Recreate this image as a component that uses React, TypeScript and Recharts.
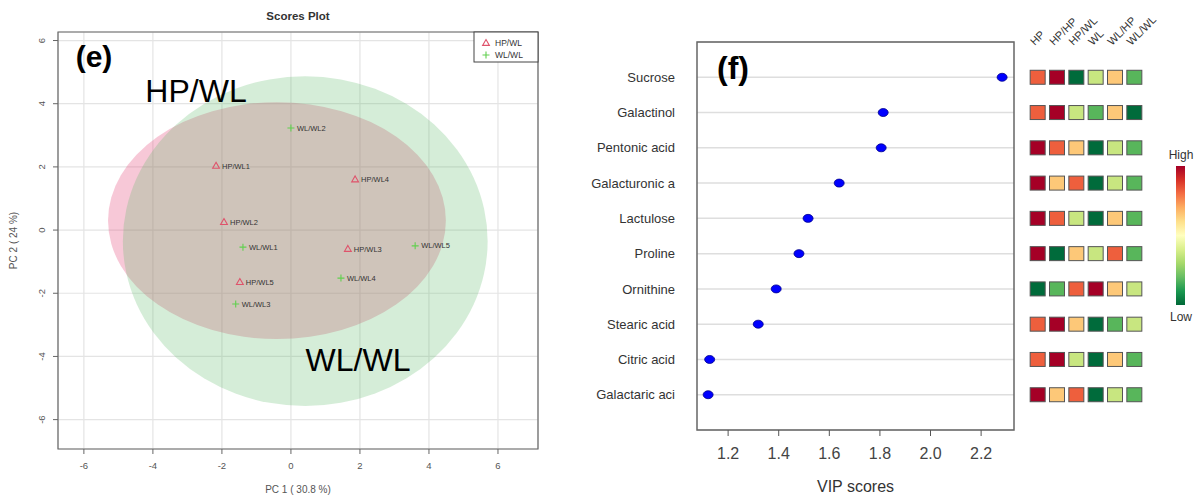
import React from 'react'
import { ScatterChart, Scatter, XAxis, YAxis, CartesianGrid, ReferenceArea } from 'recharts'

const FONT = '"Liberation Sans", Arial, Helvetica, sans-serif'

// ---- (e) PCA scores
const hpwlNames = ['HP/WL1', 'HP/WL2', 'HP/WL3', 'HP/WL4', 'HP/WL5']
const hpwlPC1 = [-2.17, -1.94, 1.65, 1.86, -1.48]
const hpwlPC2 = [2.03, 0.25, -0.6, 1.6, -1.65]

const wlwlNames = ['WL/WL1', 'WL/WL2', 'WL/WL3', 'WL/WL4', 'WL/WL5']
const wlwlPC1 = [-1.39, 0.0, -1.6, 1.45, 3.6]
const wlwlPC2 = [-0.54, 3.23, -2.34, -1.52, -0.5]

// 95% ellipse extents: [pc1 min, pc1 max, pc2 min, pc2 max]
const hpwlEllipse = [-5.3, 4.49, -3.45, 4.05]
const wlwlEllipse = [-4.87, 5.7, -5.57, 4.87]

const pcTicks = [-6, -4, -2, 0, 2, 4, 6]
const pc1Domain = [-6.75, 7.16]
const pc2Domain = [-6.93, 6.27]

// ---- (f) VIP scores
const metabolites = [
  'Sucrose', 'Galactinol', 'Pentonic acid', 'Galacturonic a', 'Lactulose',
  'Proline', 'Ornithine', 'Stearic acid', 'Citric acid', 'Galactaric aci',
]
const vipScores = [2.283, 1.813, 1.805, 1.639, 1.516, 1.48, 1.39, 1.319, 1.127, 1.121]
const vipTicks = [1.2, 1.4, 1.6, 1.8, 2.0, 2.2]

const groups = ['HP', 'HP/HP', 'HP/WL', 'WL', 'WL/HP', 'WL/WL']
// relative level per group, 1 = low ... 6 = high
const levels = [
  [5, 6, 1, 3, 4, 2],
  [5, 6, 3, 2, 4, 1],
  [6, 5, 4, 1, 3, 2],
  [6, 4, 5, 1, 3, 2],
  [6, 5, 3, 1, 4, 2],
  [6, 1, 4, 3, 5, 2],
  [1, 2, 5, 6, 4, 3],
  [5, 6, 4, 1, 2, 3],
  [5, 6, 3, 1, 4, 2],
  [6, 4, 5, 1, 3, 2],
]
const levelColors = ['#006b3b', '#58b65b', '#c8e680', '#fdc878', '#ee5f3d', '#a50026']
const rampColors = ['#a50026', '#d73027', '#f46d43', '#fdae61', '#fee08b', '#ffffbf', '#d9ef8b', '#a6d96a', '#66bd63', '#1a9850', '#006837']

const RED = '#DF536B'
const GREEN = '#61D04F'

const hpwlData = hpwlNames.map((name, i) => ({ name, x: hpwlPC1[i], y: hpwlPC2[i] }))
const wlwlData = wlwlNames.map((name, i) => ({ name, x: wlwlPC1[i], y: wlwlPC2[i] }))
const vipData = metabolites.map((name, i) => ({ name, row: i + 1, vip: vipScores[i] }))
const heatData = levels.flatMap((r, i) => r.map((lv, j) => ({ row: i + 1, col: j + 1, lv })))

const Triangle = (p: any) => (
  <g>
    <path d={`M${p.cx},${p.cy - 3.6} L${p.cx + 3.4},${p.cy + 2.3} L${p.cx - 3.4},${p.cy + 2.3} Z`} fill="none" stroke={RED} strokeWidth={1.1} />
    <text x={p.cx + 6} y={p.cy + 2.6} fontSize={7.5} fill="#333" fontFamily={FONT}>{p.payload.name}</text>
  </g>
)

const Plus = (p: any) => (
  <g>
    <path d={`M${p.cx - 3.5},${p.cy} H${p.cx + 3.5} M${p.cx},${p.cy - 3.5} V${p.cy + 3.5}`} stroke={GREEN} strokeWidth={1.1} />
    <text x={p.cx + 6} y={p.cy + 2.6} fontSize={7.5} fill="#333" fontFamily={FONT}>{p.payload.name}</text>
  </g>
)

const ellipseShape = (color: string, opacity: number) => (p: any) => (
  <ellipse
    cx={p.x + p.width / 2}
    cy={p.y + p.height / 2}
    rx={Math.abs(p.width / 2)}
    ry={Math.abs(p.height / 2)}
    fill={color}
    fillOpacity={opacity}
  />
)

const RotatedTick = (p: any) => (
  <text x={p.x} y={p.y} transform={`rotate(-90, ${p.x}, ${p.y})`} textAnchor="middle" fontSize={9.5} fill="#555" fontFamily={FONT}>
    {p.payload.value}
  </text>
)

const HeaderTick = (p: any) => {
  const x = p.x - 3
  const y = 46
  return (
    <text x={x} y={y} transform={`rotate(-45, ${x}, ${y})`} fontSize={11} fill="#333" fontFamily={FONT}>
      {groups[p.payload.value - 1]}
    </text>
  )
}

const VipDot = (p: any) => (
  <ellipse cx={p.cx} cy={p.cy} rx={5} ry={4} fill="#0000ff" stroke="#00008b" strokeWidth={0.8} />
)

const Cell = (p: any) => (
  <rect x={p.cx - 7.5} y={p.cy - 7} width={15} height={14} fill={levelColors[p.payload.lv - 1]} stroke="#555" strokeWidth={1} />
)

function ScoresPlot() {
  return (
    <ScatterChart width={560} height={496} margin={{ top: 32, right: 22, bottom: 0, left: 18 }}>
      <CartesianGrid stroke="#e4e4e4" strokeWidth={1.2} />
      <XAxis
        type="number" dataKey="x" domain={pc1Domain} ticks={pcTicks} allowDataOverflow
        height={47} axisLine={false} tickSize={5} tickMargin={8}
        tickLine={{ stroke: '#666' }} tick={{ fontSize: 9.5, fill: '#555', fontFamily: FONT }}
        label={{ value: 'PC 1 ( 30.8 %)', position: 'insideBottom', offset: 3, fontSize: 10, fill: '#555', fontFamily: FONT }}
      />
      <YAxis
        type="number" dataKey="y" domain={pc2Domain} ticks={pcTicks} allowDataOverflow
        width={40} axisLine={false} tickSize={5} tickMargin={8}
        tickLine={{ stroke: '#666' }} tick={RotatedTick}
        label={{ value: 'PC 2 ( 24 %)', angle: -90, position: 'insideLeft', offset: -5, fontSize: 10, fill: '#555', fontFamily: FONT, style: { textAnchor: 'middle' } }}
      />
      <ReferenceArea x1={hpwlEllipse[0]} x2={hpwlEllipse[1]} y1={hpwlEllipse[2]} y2={hpwlEllipse[3]} shape={ellipseShape('#e4487a', 0.3)} ifOverflow="visible" />
      <ReferenceArea x1={wlwlEllipse[0]} x2={wlwlEllipse[1]} y1={wlwlEllipse[2]} y2={wlwlEllipse[3]} shape={ellipseShape('#57b763', 0.25)} ifOverflow="visible" />
      <ReferenceArea x1={pc1Domain[0]} x2={pc1Domain[1]} y1={pc2Domain[0]} y2={pc2Domain[1]} fill="none" stroke="#666" strokeWidth={1.2} ifOverflow="visible" />
      <Scatter name="HP/WL" data={hpwlData} shape={Triangle} isAnimationActive={false} />
      <Scatter name="WL/WL" data={wlwlData} shape={Plus} isAnimationActive={false} />
    </ScatterChart>
  )
}

function VipPlot() {
  return (
    <ScatterChart width={470} height={496} margin={{ top: 42, right: 16, bottom: 0, left: 0 }}>
      <CartesianGrid vertical={false} stroke="#dedede" strokeWidth={1.5} />
      <XAxis
        type="number" dataKey="vip" domain={[1.077, 2.33]} ticks={vipTicks} allowDataOverflow
        height={66} axisLine={false} tickSize={6} tickMargin={12}
        tickLine={{ stroke: '#555' }} tickFormatter={(v: number) => v.toFixed(1)}
        tick={{ fontSize: 16, fill: '#444', fontFamily: FONT }}
        label={{ value: 'VIP scores', position: 'insideBottom', offset: 4, fontSize: 16, fill: '#333', fontFamily: FONT }}
      />
      <YAxis
        type="number" dataKey="row" domain={[0, 11]} reversed ticks={vipData.map((d) => d.row)} allowDataOverflow
        width={137} axisLine={false} tickLine={false} tickSize={0} tickMargin={22}
        tickFormatter={(v: number) => metabolites[v - 1]}
        tick={{ fontSize: 13, fill: '#333', fontFamily: FONT }}
      />
      <ReferenceArea x1={1.077} x2={2.33} y1={0} y2={11} fill="none" stroke="#666" strokeWidth={1.5} ifOverflow="visible" />
      <Scatter data={vipData} shape={VipDot} isAnimationActive={false} />
    </ScatterChart>
  )
}

function HeatStrip() {
  return (
    <ScatterChart width={176} height={496} margin={{ top: 0, right: 52, bottom: 66, left: 8 }}>
      <XAxis
        type="number" dataKey="col" orientation="top" domain={[0.5, 6.5]} ticks={[1, 2, 3, 4, 5, 6]}
        height={42} axisLine={false} tickLine={false} tickSize={0} tickMargin={0} tick={HeaderTick}
      />
      <YAxis type="number" dataKey="row" domain={[0, 11]} reversed hide allowDataOverflow />
      <Scatter data={heatData} shape={Cell} isAnimationActive={false} />
    </ScatterChart>
  )
}

export default function App() {
  const abs = { position: 'absolute' as const, top: 0 }
  return (
    <div style={{ position: 'absolute', left: 0, top: 0, width: 1196, height: 496, background: '#fff', overflow: 'hidden', fontFamily: FONT }}>
      <div style={{ ...abs, left: 0 }}><ScoresPlot /></div>
      <div style={{ ...abs, left: 560 }}><VipPlot /></div>
      <div style={{ ...abs, left: 1020 }}><HeatStrip /></div>
      <svg width={1196} height={496} style={{ ...abs, left: 0, pointerEvents: 'none' }} fontFamily={FONT}>
        <defs>
          <linearGradient id="ramp" x1="0" y1="0" x2="0" y2="1">
            {rampColors.map((c, i) => (
              <stop key={c} offset={i / (rampColors.length - 1)} stopColor={c} />
            ))}
          </linearGradient>
        </defs>
        <text x={298} y={20} textAnchor="middle" fontSize={11.5} fontWeight="bold" fill="#333">Scores Plot</text>
        <text x={94} y={67} textAnchor="middle" fontSize={30} fontWeight="bold" fill="#000">(e)</text>
        <text x={196} y={102} textAnchor="middle" fontSize={32} fill="#000">HP/WL</text>
        <text x={358} y={371} textAnchor="middle" fontSize={32} fill="#000">WL/WL</text>
        <text x={733} y={79} textAnchor="middle" fontSize={32} fontWeight="bold" fill="#000">(f)</text>

        <rect x={474} y={32} width={64} height={30} fill="#fff" stroke="#444" strokeWidth={1} />
        <path d="M486,39.5 L489.4,45.4 L482.6,45.4 Z" fill="none" stroke={RED} strokeWidth={1.1} />
        <text x={495} y={46} fontSize={8.5} fill="#333">HP/WL</text>
        <path d="M482.5,55 H489.5 M486,51.5 V58.5" stroke={GREEN} strokeWidth={1.1} />
        <text x={495} y={58} fontSize={8.5} fill="#333">WL/WL</text>

        <text x={1181} y={159} textAnchor="middle" fontSize={12} fill="#333">High</text>
        <rect x={1176} y={166} width={9} height={139} fill="url(#ramp)" />
        <text x={1181} y={321} textAnchor="middle" fontSize={12} fill="#333">Low</text>
      </svg>
    </div>
  )
}
